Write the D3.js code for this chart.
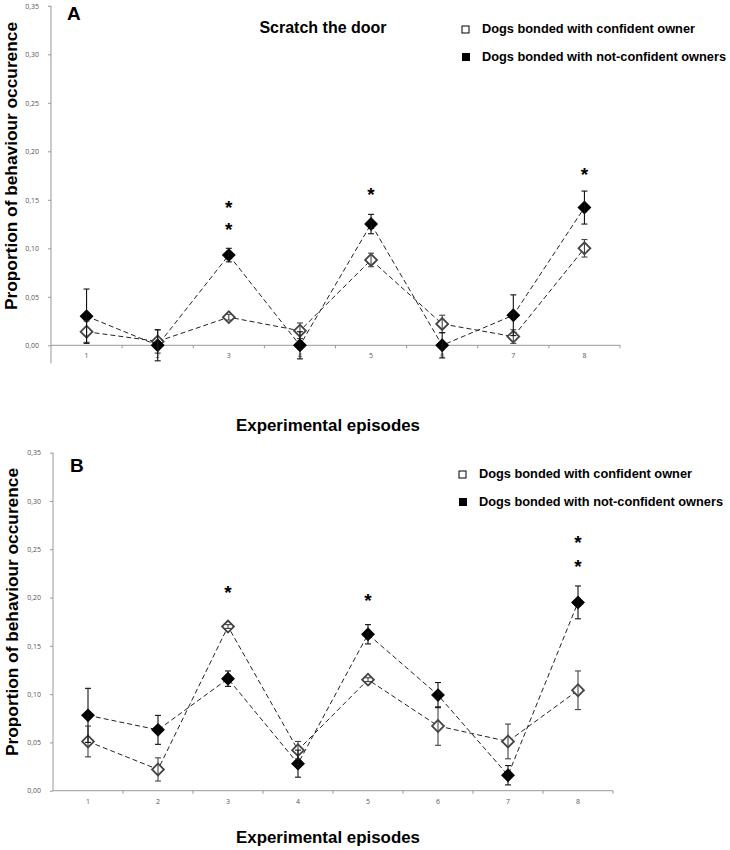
<!DOCTYPE html>
<html>
<head>
<meta charset="utf-8">
<script src="https://cdn.jsdelivr.net/npm/d3@7"></script>
<style>
  html, body { margin: 0; padding: 0; background: #fff; }
  svg { display: block; }
  text { font-family: "Liberation Sans", Arial, sans-serif; }
</style>
</head>
<body>
<svg id="chart" width="730" height="850"></svg>
<script>
// ---------- DATA ----------
const episodes = ["1", "2", "3", "4", "5", "6", "7", "8"];
const yTicks = [0, 0.05, 0.10, 0.15, 0.20, 0.25, 0.30, 0.35];
const seriesNames = ["Dogs bonded with confident owner", "Dogs bonded with not-confident owners"];

// Panel A: Scratch the door
const aConfident     = [0.014, 0.004, 0.029, 0.015, 0.088, 0.022, 0.009, 0.100];
const aConfidentErr  = [0.011, 0.012, 0.003, 0.008, 0.007, 0.009, 0.007, 0.009];
const aNotConfident  = [0.030, 0.000, 0.093, 0.000, 0.125, 0.000, 0.031, 0.142];
const aNotConfErr    = [0.028, 0.016, 0.007, 0.014, 0.010, 0.013, 0.021, 0.017];
// asterisk positions (episode, value level)
const aStars = [["3", 0.146], ["3", 0.123], ["5", 0.159], ["8", 0.180]];

// Panel B
const bConfident     = [0.051, 0.022, 0.170, 0.042, 0.115, 0.067, 0.051, 0.104];
const bConfidentErr  = [0.016, 0.012, 0.002, 0.009, 0.002, 0.020, 0.018, 0.020];
const bNotConfident  = [0.078, 0.063, 0.116, 0.028, 0.162, 0.099, 0.016, 0.195];
const bNotConfErr    = [0.028, 0.015, 0.008, 0.014, 0.010, 0.013, 0.010, 0.017];
const bStars = [["3", 0.209], ["5", 0.201], ["8", 0.261], ["8", 0.236]];

// ---------- DRAW ----------
const svg = d3.select("#chart");
svg.append("rect").attr("width", 730).attr("height", 850).attr("fill", "#fff");

const fmt = v => d3.format(".2f")(v).replace(".", ",");

function panel(cfg) {
  const g = svg.append("g");
  const x = d3.scaleBand().domain(episodes).range([cfg.x0, cfg.x1]);
  const y = d3.scaleLinear().domain([0, 0.35]).range([cfg.y0, cfg.yTop]);

  // y axis
  const yAxis = d3.axisLeft(y).tickValues(yTicks).tickFormat(fmt).tickSize(3).tickPadding(9);
  const ya = g.append("g").attr("transform", `translate(${cfg.x0},0)`).call(yAxis);
  ya.select(".domain").remove();
  ya.selectAll(".tick line").attr("stroke", "#999");
  ya.selectAll(".tick text").attr("fill", "#555").style("font-size", "7px")
    .style("font-family", "'Open Sans', 'Liberation Sans', sans-serif");
  g.append("line").attr("x1", cfg.x0).attr("x2", cfg.x0)
    .attr("y1", y(0.35)).attr("y2", cfg.y0 + cfg.yExt)
    .attr("stroke", "#999").attr("stroke-width", 1);

  // x axis
  g.append("line").attr("x1", cfg.x0).attr("x2", cfg.x1)
    .attr("y1", y(0)).attr("y2", y(0)).attr("stroke", "#999").attr("stroke-width", 1);
  const bounds = episodes.map(e => x(e)).concat([x(episodes[7]) + x.bandwidth()]);
  g.selectAll(".xt").data(bounds.slice(1)).enter().append("line")
    .attr("x1", d => d).attr("x2", d => d)
    .attr("y1", y(0)).attr("y2", y(0) + 3).attr("stroke", "#999");
  g.selectAll(".xl").data(episodes).enter().append("text")
    .attr("x", d => x(d) + x.bandwidth() / 2).attr("y", y(0) + 13)
    .attr("text-anchor", "middle").attr("fill", "#555")
    .style("font-size", "7px").style("font-family", "'Open Sans', 'Liberation Sans', sans-serif")
    .text(d => d);

  const cx = d => x(d) + x.bandwidth() / 2;
  const line = d3.line().x(d => cx(d.e)).y(d => y(d.v));
  const mk = (vals, errs) => episodes.map((e, i) => ({ e, v: vals[i], err: errs[i] }));
  const conf = mk(cfg.conf, cfg.confErr);
  const notc = mk(cfg.notc, cfg.notcErr);

  [conf, notc].forEach(s => {
    g.append("path").datum(s).attr("d", line).attr("fill", "none")
      .attr("stroke", "#222").attr("stroke-width", 1).attr("stroke-dasharray", "5,3");
  });

  const diamond = d3.symbol(d3.symbolSquare, 70);
  // markers
  g.selectAll(".mc").data(conf).enter().append("path")
    .attr("d", diamond).attr("transform", d => `translate(${cx(d.e)},${y(d.v)}) rotate(45)`)
    .attr("fill", "#fff").attr("stroke", "#444").attr("stroke-width", 1.8);
  g.selectAll(".mn").data(notc).enter().append("path")
    .attr("d", d3.symbol(d3.symbolSquare, 78)).attr("transform", d => `translate(${cx(d.e)},${y(d.v)}) rotate(45)`)
    .attr("fill", "#000").attr("stroke", "#000").attr("stroke-width", 1);

  // error bars
  function errBars(data, color) {
    const eb = g.selectAll(null).data(data).enter().append("g").attr("stroke", color).attr("stroke-width", 1.1);
    eb.append("line").attr("x1", d => cx(d.e)).attr("x2", d => cx(d.e))
      .attr("y1", d => y(d.v - d.err)).attr("y2", d => y(d.v + d.err));
    eb.append("line").attr("x1", d => cx(d.e) - 3).attr("x2", d => cx(d.e) + 3)
      .attr("y1", d => y(d.v + d.err)).attr("y2", d => y(d.v + d.err));
    eb.append("line").attr("x1", d => cx(d.e) - 3).attr("x2", d => cx(d.e) + 3)
      .attr("y1", d => y(d.v - d.err)).attr("y2", d => y(d.v - d.err));
  }
  errBars(conf, "#444");
  errBars(notc, "#111");

  // asterisks
  g.selectAll(".st").data(cfg.stars).enter().append("text")
    .attr("x", d => cx(d[0])).attr("y", d => y(d[1]) + 10)
    .attr("text-anchor", "middle").style("font-size", "19px").style("font-weight", "bold")
    .text("*");

  // panel letter
  g.append("text").attr("x", cfg.letterX).attr("y", cfg.letterY)
    .style("font-size", "19px").style("font-weight", "bold").text(cfg.letter);

  // y title
  g.append("text").attr("transform", `translate(${cfg.yTitleX},${cfg.yTitleY}) rotate(-90)`)
    .attr("text-anchor", "middle").style("font-size", "17px").style("font-weight", "bold")
    .attr("textLength", 288).attr("lengthAdjust", "spacingAndGlyphs")
    .text("Proportion of behaviour  occurence");

  // x title
  g.append("text").attr("x", 328).attr("y", cfg.xTitleY)
    .attr("text-anchor", "middle").style("font-size", "17px").style("font-weight", "bold")
    .attr("textLength", 184).attr("lengthAdjust", "spacingAndGlyphs")
    .text("Experimental episodes");

  // legend
  const lg = g.append("g");
  lg.append("rect").attr("x", cfg.legX).attr("y", cfg.legY1 - 7).attr("width", 7).attr("height", 7)
    .attr("fill", "#fff").attr("stroke", "#000").attr("stroke-width", 1);
  lg.append("rect").attr("x", cfg.legX).attr("y", cfg.legY2 - 8).attr("width", 8).attr("height", 8)
    .attr("fill", "#000");
  lg.append("text").attr("x", cfg.legX + 20).attr("y", cfg.legY1)
    .style("font-size", "13px").style("font-weight", "bold")
    .attr("textLength", 213).attr("lengthAdjust", "spacingAndGlyphs").text(seriesNames[0]);
  lg.append("text").attr("x", cfg.legX + 20).attr("y", cfg.legY2)
    .style("font-size", "13px").style("font-weight", "bold")
    .attr("textLength", 244).attr("lengthAdjust", "spacingAndGlyphs").text(seriesNames[1]);

  if (cfg.title) {
    g.append("text").attr("x", 323).attr("y", 33).attr("text-anchor", "middle")
      .style("font-size", "16px").style("font-weight", "bold").text(cfg.title);
  }
}

panel({
  x0: 51, x1: 620, y0: 345.3, yTop: 5.8, yExt: 18,
  conf: aConfident, confErr: aConfidentErr, notc: aNotConfident, notcErr: aNotConfErr,
  stars: aStars, letter: "A", letterX: 67, letterY: 20,
  yTitleX: 17, yTitleY: 166, xTitleY: 431,
  legX: 462, legY1: 33, legY2: 61, title: "Scratch the door"
});

panel({
  x0: 53, x1: 613, y0: 790.7, yTop: 452.7, yExt: 0,
  conf: bConfident, confErr: bConfidentErr, notc: bNotConfident, notcErr: bNotConfErr,
  stars: bStars, letter: "B", letterX: 70, letterY: 472,
  yTitleX: 18, yTitleY: 612, xTitleY: 843,
  legX: 459, legY1: 478, legY2: 506, title: null
});
</script>
</body>
</html>
